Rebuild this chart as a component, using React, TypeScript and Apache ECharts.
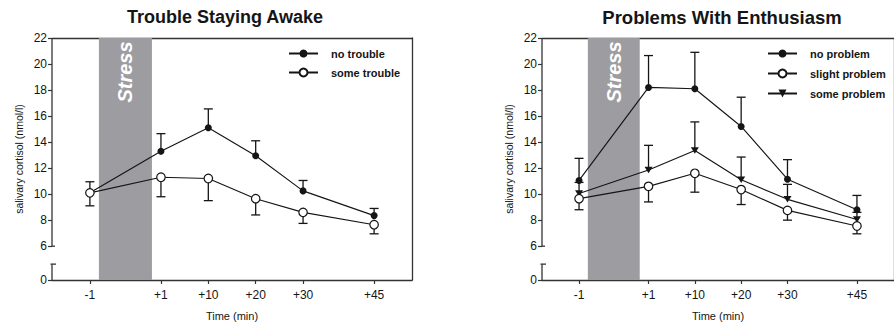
import React, { useEffect, useRef } from 'react';
import * as echarts from 'echarts';

// ---- data ----
const timeLabels = ['-1', '+1', '+10', '+20', '+30', '+45'];
const timeSlots = [0, 1.5, 2.5, 3.5, 4.5, 6];
const yTickValues = [6, 8, 10, 12, 14, 16, 18, 20, 22];

const noTrouble = [10.1, 13.3, 15.1, 12.95, 10.25, 8.35];
const noTroubleUpper = [10.95, 14.65, 16.55, 14.1, 11.05, 8.9];
const someTrouble = [10.1, 11.3, 11.2, 9.65, 8.6, 7.65];
const someTroubleLower = [9.1, 9.8, 9.5, 8.4, 7.75, 6.95];

const noProblem = [11.05, 18.2, 18.1, 15.2, 11.15, 8.8];
const noProblemUpper = [12.75, 20.65, 20.9, 17.45, 12.65, 9.9];
const slightProblem = [9.65, 10.6, 11.6, 10.35, 8.75, 7.55];
const slightProblemLower = [8.8, 9.4, 10.15, 9.2, 8.0, 6.95];
const someProblem = [10.05, 11.85, 13.35, 11.1, 9.6, 8.05];
const someProblemUpper = [10.9, 13.75, 15.55, 12.85, 10.75, 8.6];

// ---- layout constants ----
const X_MIN = -0.8;
const X_MAX = 6.8;
const Y_MIN = 3.4;
const Y_MAX = 22;
const BREAK_HI = 6;
const BREAK_LO = 4.62;
const STRESS_START = 0.19;
const STRESS_END = 1.31;

const FONT = '"Liberation Sans", Arial, Helvetica, sans-serif';
const AX = '#333';
const INK = '#151515';
const TRI = 'path://M0,0 L10,0 L5,8 Z';

const fmtX = (v: number) => {
  const i = timeSlots.findIndex((s) => Math.abs(s - v) < 1e-6);
  return i >= 0 ? timeLabels[i] : '';
};

const frameRender = (_params: any, api: any) => {
  const top = api.coord([X_MIN, Y_MAX]);
  const hi = api.coord([X_MIN, BREAK_HI]);
  const lo = api.coord([X_MIN, BREAK_LO]);
  const bot = api.coord([X_MIN, Y_MIN]);
  const s0 = api.coord([STRESS_START, Y_MAX]);
  const s1 = api.coord([STRESS_END, Y_MIN]);
  const ls = { stroke: AX, lineWidth: 1.3 };
  return {
    type: 'group',
    children: [
      {
        type: 'rect',
        shape: { x: s0[0], y: s0[1], width: s1[0] - s0[0], height: s1[1] - s0[1] },
        style: { fill: '#9d9da1' },
      },
      {
        type: 'text',
        x: (s0[0] + s1[0]) / 2,
        y: s0[1] + 34,
        rotation: Math.PI / 2,
        style: {
          text: 'Stress',
          fill: '#ffffff',
          font: `italic bold 20px ${FONT}`,
          align: 'center',
          verticalAlign: 'middle',
        },
      },
      { type: 'line', shape: { x1: top[0], y1: top[1], x2: hi[0], y2: hi[1] }, style: ls },
      { type: 'line', shape: { x1: hi[0], y1: hi[1], x2: hi[0] + 3, y2: hi[1] }, style: ls },
      { type: 'line', shape: { x1: lo[0], y1: lo[1], x2: bot[0], y2: bot[1] }, style: ls },
      { type: 'line', shape: { x1: lo[0] - 1.5, y1: lo[1], x2: lo[0] + 4, y2: lo[1] }, style: ls },
    ],
  };
};

const errRender = (_params: any, api: any) => {
  const x = api.value(0);
  const p1 = api.coord([x, api.value(1)]);
  const p2 = api.coord([x, api.value(2)]);
  const ls = { stroke: INK, lineWidth: 1.3 };
  return {
    type: 'group',
    children: [
      { type: 'line', shape: { x1: p1[0], y1: p1[1], x2: p2[0], y2: p2[1] }, style: ls },
      { type: 'line', shape: { x1: p2[0] - 4.5, y1: p2[1], x2: p2[0] + 4.5, y2: p2[1] }, style: ls },
    ],
  };
};

const pts = (vals: number[]) => timeSlots.map((x, i) => [x, vals[i]]);
const errPts = (vals: number[], ends: number[]) => timeSlots.map((x, i) => [x, vals[i], ends[i]]);

type Line = { name: string; vals: number[]; ends: number[]; kind: 'filled' | 'open' | 'tri' };

function panelSeries(k: number, lines: Line[]) {
  const ax = { xAxisIndex: 2 * k, yAxisIndex: 2 * k };
  const out: any[] = [
    { type: 'custom', ...ax, data: [[X_MIN, Y_MIN]], renderItem: frameRender, clip: false, silent: true, z: 1 },
  ];
  lines.forEach((l) => {
    out.push({ type: 'custom', ...ax, data: errPts(l.vals, l.ends), renderItem: errRender, silent: true, z: 2 });
  });
  lines.forEach((l) => {
    const base: any = {
      type: 'line',
      name: l.name,
      ...ax,
      data: pts(l.vals),
      lineStyle: { color: INK, width: 1.15 },
      z: l.kind === 'open' ? 4 : 3,
      showSymbol: true,
    };
    if (l.kind === 'filled') {
      base.symbol = 'circle';
      base.symbolSize = 7;
      base.itemStyle = { color: INK };
    } else if (l.kind === 'open') {
      base.symbol = 'circle';
      base.symbolSize = 8.5;
      base.itemStyle = { color: '#ffffff', borderColor: INK, borderWidth: 1.2 };
    } else {
      base.symbol = TRI;
      base.symbolSize = [8, 6.5];
      base.itemStyle = { color: INK };
    }
    out.push(base);
  });
  return out;
}

function xAxes(gi: number) {
  return [
    {
      type: 'value',
      gridIndex: gi,
      position: 'bottom',
      min: X_MIN,
      max: X_MAX,
      axisLine: { show: true, onZero: false, lineStyle: { color: AX, width: 1.3 } },
      axisTick: { show: true, customValues: timeSlots, length: 4, lineStyle: { color: AX, width: 1.2 } },
      axisLabel: { customValues: timeSlots, formatter: fmtX, margin: 9, fontSize: 12, color: INK, fontFamily: FONT },
      splitLine: { show: false },
      name: 'Time (min)',
      nameLocation: 'middle',
      nameGap: 30,
      nameTextStyle: { fontSize: 11, color: INK, fontFamily: FONT },
    },
    {
      type: 'value',
      gridIndex: gi,
      position: 'top',
      min: X_MIN,
      max: X_MAX,
      axisLine: { show: true, onZero: false, lineStyle: { color: AX, width: 1.3 } },
      axisTick: { show: false },
      axisLabel: { show: false },
      splitLine: { show: false },
    },
  ];
}

function yAxes(gi: number) {
  const vals = [Y_MIN, ...yTickValues];
  return [
    {
      type: 'value',
      gridIndex: gi,
      position: 'left',
      min: Y_MIN,
      max: Y_MAX,
      axisLine: { show: false, onZero: false },
      axisTick: { show: true, customValues: vals, length: 4, lineStyle: { color: AX, width: 1.2 } },
      axisLabel: {
        customValues: vals,
        formatter: (v: number) => (v < 5 ? '0' : String(Math.round(v))),
        margin: 5,
        fontSize: 12,
        color: INK,
        fontFamily: FONT,
      },
      splitLine: { show: false },
      name: 'salivary cortisol (nmol/l)',
      nameLocation: 'middle',
      nameGap: 28,
      nameTextStyle: { fontSize: 10.5, color: INK, fontFamily: FONT },
    },
    {
      type: 'value',
      gridIndex: gi,
      position: 'right',
      min: Y_MIN,
      max: Y_MAX,
      axisLine: { show: true, onZero: false, lineStyle: { color: AX, width: 1.3 } },
      axisTick: { show: false },
      axisLabel: { show: false },
      splitLine: { show: false },
    },
  ];
}

const legendCommon = {
  orient: 'vertical',
  itemWidth: 29,
  itemHeight: 10,
  padding: 0,
  selectedMode: false,
  textStyle: { fontSize: 11, fontWeight: 'bold', color: INK, fontFamily: FONT, padding: [0, 0, 0, 8] },
};

export default function App() {
  const ref = useRef<HTMLDivElement>(null);
  useEffect(() => {
    if (!ref.current) return;
    const chart = echarts.init(ref.current, undefined, { renderer: 'svg' });
    const option: any = {
      animation: false,
      backgroundColor: '#ffffff',
      grid: [
        { left: 52, top: 38, width: 360, height: 242 },
        { left: 542, top: 38, width: 360, height: 242 },
      ],
      xAxis: [...xAxes(0), ...xAxes(1)],
      yAxis: [...yAxes(0), ...yAxes(1)],
      legend: [
        { ...legendCommon, left: 288, top: 48, itemGap: 8, data: ['no trouble', 'some trouble'] },
        { ...legendCommon, left: 767, top: 48, itemGap: 9, data: ['no problem', 'slight problem', 'some problem'] },
      ],
      graphic: [
        {
          type: 'text',
          x: 225,
          y: 17,
          style: {
            text: 'Trouble Staying Awake',
            font: `bold 18px ${FONT}`,
            fill: INK,
            align: 'center',
            verticalAlign: 'middle',
            textAlign: 'center',
            textVerticalAlign: 'middle',
          },
        },
        {
          type: 'text',
          x: 722,
          y: 17,
          style: {
            text: 'Problems With Enthusiasm',
            font: `bold 18.5px ${FONT}`,
            fill: INK,
            align: 'center',
            verticalAlign: 'middle',
            textAlign: 'center',
            textVerticalAlign: 'middle',
          },
        },
      ],
      series: [
        ...panelSeries(0, [
          { name: 'no trouble', vals: noTrouble, ends: noTroubleUpper, kind: 'filled' },
          { name: 'some trouble', vals: someTrouble, ends: someTroubleLower, kind: 'open' },
        ]),
        ...panelSeries(1, [
          { name: 'no problem', vals: noProblem, ends: noProblemUpper, kind: 'filled' },
          { name: 'some problem', vals: someProblem, ends: someProblemUpper, kind: 'tri' },
          { name: 'slight problem', vals: slightProblem, ends: slightProblemLower, kind: 'open' },
        ]),
      ],
    };
    chart.setOption(option);
    return () => chart.dispose();
  }, []);
  return (
    <div
      ref={ref}
      style={{ position: 'fixed', left: 0, top: 0, width: 894, height: 333, background: '#fff' }}
    />
  );
}
